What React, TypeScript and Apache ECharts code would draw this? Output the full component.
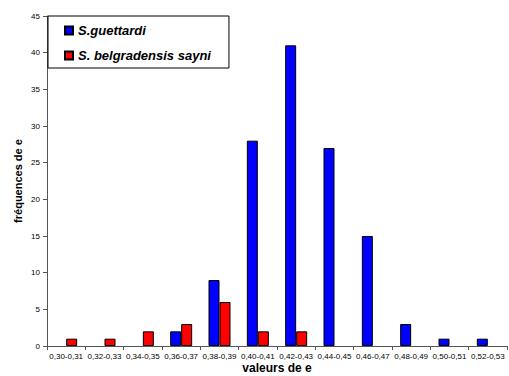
import React, { useEffect, useRef } from "react";
import * as echarts from "echarts";

const categories = ["0,30-0,31","0,32-0,33","0,34-0,35","0,36-0,37","0,38-0,39","0,40-0,41","0,42-0,43","0,44-0,45","0,46-0,47","0,48-0,49","0,50-0,51","0,52-0,53"];
const guettardi = [0,0,0,2,9,28,41,27,15,3,1,1];
const belgradensis = [1,1,2,3,6,2,2,0,0,0,0,0];
const seriesNames = ["S.guettardi", "S. belgradensis sayni"];

const hideZero = (arr: number[]) => arr.map((v) => (v === 0 ? null : v));

export default function App() {
  const ref = useRef<HTMLDivElement>(null);
  useEffect(() => {
    const chart = echarts.init(ref.current!, null, { renderer: "svg" });
    const axisColor = "#555";
    chart.setOption({
      animation: false,
      backgroundColor: "#fff",
      grid: { left: 47, right: 2, top: 16, bottom: 30, outerBoundsMode: "none", containLabel: false },
      legend: {
        left: 48, top: 16, orient: "vertical",
        backgroundColor: "#fff",
        borderColor: "#000", borderWidth: 1, borderRadius: 0,
        padding: [8, 18, 6, 16],
        itemWidth: 8, itemHeight: 8, itemGap: 12,
        icon: "rect",
        textStyle: { fontFamily: "Liberation Sans, Arial", fontSize: 13, fontWeight: "bold", fontStyle: "italic", color: "#000" },
        data: seriesNames,
      },
      xAxis: {
        type: "category",
        data: categories,
        name: "valeurs de e",
        nameLocation: "middle",
        nameGap: 16,
        nameMoveOverlap: false,
        nameTextStyle: { fontFamily: "Liberation Sans, Arial", fontSize: 12, fontWeight: "bold", color: "#000", lineHeight: 12 },
        axisLine: { lineStyle: { color: axisColor } },
        axisTick: { show: true, length: 4, lineStyle: { color: axisColor } },
        axisLabel: { fontFamily: "Liberation Sans, Arial", fontSize: 8, color: "#000", margin: 6, interval: 0 },
      },
      yAxis: {
        type: "value",
        min: 0, max: 45, interval: 5,
        name: "fréquences de e",
        nameLocation: "middle",
        nameRotate: 90,
        nameGap: 24,
        nameMoveOverlap: false,
        nameTextStyle: { fontFamily: "Liberation Sans, Arial", fontSize: 11, fontWeight: "bold", color: "#000" },
        axisLine: { show: true, lineStyle: { color: axisColor } },
        axisTick: { show: true, length: 4, lineStyle: { color: axisColor } },
        axisLabel: { fontFamily: "Liberation Sans, Arial", fontSize: 8, color: "#000", margin: 7 },
        splitLine: { show: false },
      },
      series: [
        {
          name: seriesNames[0], type: "bar", data: hideZero(guettardi),
          barWidth: 11, barGap: "0%",
          itemStyle: { color: "#0000ff", borderColor: "#000", borderWidth: 1 },
        },
        {
          name: seriesNames[1], type: "bar", data: hideZero(belgradensis),
          barWidth: 11, barGap: "0%",
          itemStyle: { color: "#ff0000", borderColor: "#000", borderWidth: 1 },
        },
      ],
    });
    return () => chart.dispose();
  }, []);
  return <div ref={ref} style={{ position: "fixed", left: 0, top: 0, width: 509, height: 376 }} />;
}
